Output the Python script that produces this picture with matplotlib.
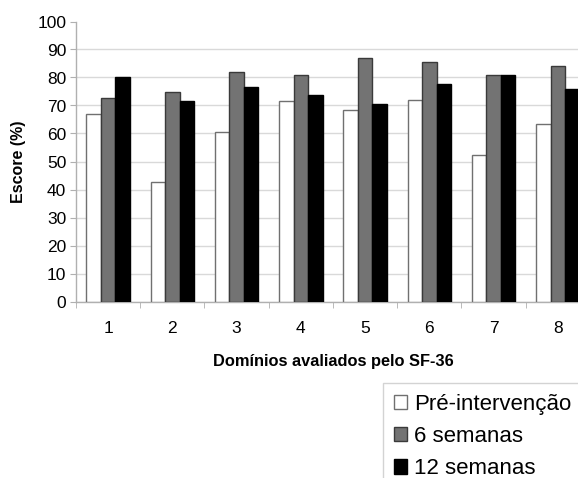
import numpy as np
import matplotlib.pyplot as plt

plt.rcParams['font.family'] = ['Liberation Sans', 'DejaVu Sans']

dominios = ['1', '2', '3', '4', '5', '6', '7', '8']
pre = [67.0, 42.7, 60.7, 71.5, 68.5, 72.0, 52.3, 63.4]
sem6 = [72.8, 74.8, 81.8, 81.0, 87.0, 85.6, 80.8, 84.0]
sem12 = [80.0, 71.6, 76.6, 73.9, 70.6, 77.6, 80.8, 76.0]

fig = plt.figure(figsize=(5.78, 4.78), dpi=100)
ax = fig.add_axes([76 / 578, 176.5 / 478, 514 / 578, 280 / 478])

x = np.arange(len(dominios))
w = 0.225
ax.bar(x - w, pre, w, color='white', edgecolor='#707070', linewidth=1.0,
       label='Pré-intervenção', zorder=3)
ax.bar(x, sem6, w, color='#737373', edgecolor='#3a3a3a', linewidth=1.0,
       label='6 semanas', zorder=3)
ax.bar(x + w, sem12, w, color='black', edgecolor='black', linewidth=1.0,
       label='12 semanas', zorder=3)

ax.set_xlim(-0.5, len(dominios) - 0.5)
ax.set_ylim(0, 100)
ax.set_yticks(range(0, 101, 10))
ax.set_xticks(x)
ax.set_xticklabels(dominios)
ax.set_xticks(np.arange(-0.5, len(dominios), 1), minor=True)

ax.yaxis.grid(True, color='#d9d9d9', linewidth=1.0, zorder=0)
ax.get_ygridlines()[-1].set_visible(False)

for s in ['top', 'right']:
    ax.spines[s].set_visible(False)
for s in ['left', 'bottom']:
    ax.spines[s].set_color('#b0b0b0')
    ax.spines[s].set_linewidth(1.0)

ax.tick_params(axis='y', length=4, color='#b0b0b0', labelsize=12.5, pad=3)
ax.tick_params(axis='x', which='major', length=0, labelsize=12.5, pad=14)
ax.tick_params(axis='x', which='minor', length=4, color='#b0b0b0')

ax.set_xlabel('Domínios avaliados pelo SF-36', fontsize=11.8, fontweight='bold')
ax.xaxis.set_label_coords(0.5, -0.187)
ax.set_ylabel('Escore (%)', fontsize=11.5, fontweight='bold', labelpad=8)

# legend box runs past the right edge of the figure
leg = fig.legend(loc='upper left', mode='expand',
                 bbox_to_anchor=(383 / 578, 0, 205 / 578, 1 - 383 / 478),
                 fontsize=16, frameon=True, fancybox=False, handlelength=0.6,
                 handleheight=0.6, handletextpad=0.3, labelspacing=0.5,
                 borderpad=0.5, borderaxespad=0)
leg.get_frame().set_edgecolor('#c8c8c8')
leg.get_frame().set_linewidth(1.0)

fig.savefig('out.png', dpi=100)
